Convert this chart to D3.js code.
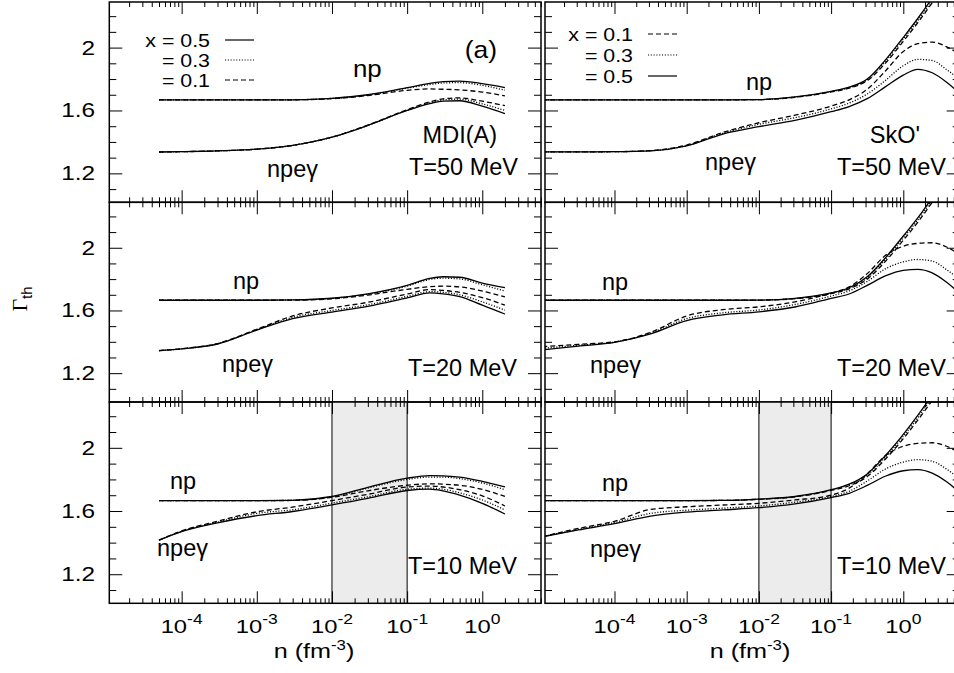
<!DOCTYPE html>
<html><head><meta charset="utf-8">
<script src="https://cdn.jsdelivr.net/npm/d3@7"></script>
<style>
body{margin:0;background:#fff}
svg{display:block}
text{font-family:"Liberation Sans",Arial,Helvetica,sans-serif;fill:#000}
</style>
</head><body>
<svg id="c" width="954" height="673"></svg>
<script>
// ---------------- data ----------------
const nLeft = [5e-5,1e-4,3e-4,1e-3,3e-3,1e-2,3e-2,0.1,0.2,0.3,0.5,1,2];
const nRight = [1e-5,3.162e-5,1e-4,3.162e-4,1e-3,3.162e-3,1e-2,3.162e-2,0.1,0.1778,0.3162,0.5623,1,1.585,2.512,3.981,6.31];

// MDI(A), T = 50 MeV
const mdi50NpX05 = [1.667,1.667,1.667,1.667,1.668,1.677,1.700,1.745,1.772,1.784,1.787,1.771,1.746];
const mdi50NpX03 = [1.667,1.667,1.667,1.667,1.668,1.677,1.698,1.742,1.765,1.775,1.777,1.760,1.729];
const mdi50NpX01 = [1.667,1.667,1.667,1.667,1.668,1.675,1.695,1.728,1.737,1.735,1.731,1.717,1.693];
const mdi50NpeX05 = [1.336,1.338,1.343,1.354,1.378,1.430,1.505,1.600,1.643,1.660,1.662,1.627,1.580];
const mdi50NpeX03 = [1.336,1.338,1.343,1.354,1.378,1.430,1.505,1.602,1.648,1.667,1.672,1.642,1.600];
const mdi50NpeX01 = [1.336,1.338,1.343,1.354,1.378,1.431,1.507,1.605,1.655,1.674,1.680,1.659,1.631];
// MDI(A), T = 20 MeV
const mdi20NpX05 = [1.665,1.665,1.665,1.665,1.667,1.678,1.706,1.760,1.805,1.815,1.812,1.775,1.745];
const mdi20NpX03 = [1.665,1.665,1.665,1.665,1.667,1.677,1.704,1.755,1.798,1.806,1.801,1.764,1.724];
const mdi20NpX01 = [1.665,1.665,1.665,1.665,1.666,1.674,1.698,1.735,1.752,1.755,1.750,1.724,1.686];
const mdi20NpeX05 = [1.344,1.355,1.386,1.475,1.548,1.590,1.626,1.680,1.712,1.706,1.688,1.634,1.577];
const mdi20NpeX03 = [1.344,1.355,1.387,1.478,1.556,1.600,1.636,1.690,1.720,1.716,1.700,1.655,1.602];
const mdi20NpeX01 = [1.344,1.356,1.389,1.480,1.565,1.616,1.652,1.705,1.733,1.728,1.715,1.682,1.634];
// MDI(A), T = 10 MeV
const mdi10NpX05 = [1.666,1.666,1.666,1.666,1.668,1.692,1.750,1.808,1.824,1.823,1.815,1.788,1.752];
const mdi10NpX03 = [1.666,1.666,1.666,1.666,1.668,1.690,1.745,1.800,1.815,1.815,1.805,1.777,1.735];
const mdi10NpX01 = [1.666,1.666,1.666,1.666,1.667,1.687,1.728,1.763,1.772,1.770,1.763,1.737,1.692];
const mdi10NpeX05 = [1.416,1.470,1.525,1.571,1.597,1.639,1.680,1.730,1.738,1.727,1.700,1.649,1.581];
const mdi10NpeX03 = [1.416,1.472,1.530,1.585,1.608,1.650,1.690,1.738,1.745,1.738,1.715,1.670,1.607];
const mdi10NpeX01 = [1.416,1.474,1.535,1.595,1.625,1.666,1.706,1.752,1.758,1.752,1.735,1.696,1.632];

// SkO', T = 50 MeV
const sko50NpX05 = [1.668,1.668,1.668,1.668,1.668,1.668,1.669,1.686,1.722,1.748,1.800,1.920,2.065,2.185,2.315,2.455,2.600];
const sko50NpX03 = [1.668,1.668,1.668,1.668,1.668,1.668,1.669,1.685,1.720,1.745,1.795,1.912,2.055,2.172,2.300,2.440,2.580];
const sko50NpX01 = [1.668,1.668,1.668,1.668,1.668,1.668,1.669,1.684,1.718,1.742,1.790,1.900,2.040,2.158,2.285,2.420,2.560];
const sko50NpeX05 = [1.337,1.337,1.338,1.343,1.375,1.450,1.497,1.537,1.592,1.625,1.675,1.750,1.825,1.862,1.840,1.780,1.700];
const sko50NpeX03 = [1.337,1.337,1.338,1.344,1.377,1.455,1.512,1.554,1.610,1.647,1.705,1.790,1.885,1.925,1.918,1.860,1.790];
const sko50NpeX01 = [1.337,1.337,1.338,1.345,1.380,1.460,1.522,1.570,1.628,1.668,1.735,1.850,1.975,2.025,2.035,2.005,1.950];
// SkO', T = 20 MeV
const sko20NpX05 = [1.665,1.665,1.665,1.665,1.665,1.665,1.666,1.677,1.712,1.745,1.815,1.935,2.075,2.190,2.320,2.460,2.600];
const sko20NpX03 = [1.665,1.665,1.665,1.665,1.665,1.665,1.666,1.676,1.710,1.742,1.808,1.925,2.063,2.178,2.305,2.445,2.580];
const sko20NpX01 = [1.665,1.665,1.665,1.665,1.665,1.665,1.666,1.675,1.707,1.738,1.800,1.912,2.048,2.162,2.290,2.425,2.560];
const sko20NpeX05 = [1.348,1.372,1.396,1.450,1.535,1.572,1.591,1.622,1.677,1.705,1.760,1.820,1.856,1.862,1.840,1.780,1.700];
const sko20NpeX03 = [1.358,1.378,1.398,1.455,1.548,1.585,1.603,1.638,1.692,1.725,1.785,1.865,1.910,1.925,1.915,1.860,1.790];
const sko20NpeX01 = [1.369,1.384,1.400,1.460,1.565,1.605,1.623,1.655,1.710,1.750,1.835,1.950,2.010,2.028,2.032,2.005,1.950];
// SkO', T = 10 MeV
const sko10NpX05 = [1.666,1.666,1.666,1.666,1.666,1.667,1.675,1.692,1.735,1.770,1.835,1.950,2.085,2.205,2.335,2.475,2.620];
const sko10NpX03 = [1.666,1.666,1.666,1.666,1.666,1.667,1.675,1.691,1.733,1.766,1.828,1.940,2.073,2.190,2.320,2.460,2.600];
const sko10NpX01 = [1.666,1.666,1.666,1.666,1.666,1.667,1.674,1.690,1.730,1.760,1.818,1.928,2.058,2.175,2.300,2.440,2.580];
const sko10NpeX05 = [1.437,1.480,1.520,1.568,1.593,1.607,1.621,1.645,1.685,1.712,1.762,1.820,1.855,1.862,1.840,1.785,1.710];
const sko10NpeX03 = [1.437,1.484,1.527,1.585,1.605,1.618,1.632,1.656,1.692,1.725,1.790,1.865,1.910,1.925,1.915,1.865,1.795];
const sko10NpeX01 = [1.437,1.490,1.535,1.610,1.627,1.638,1.649,1.670,1.700,1.745,1.835,1.950,2.010,2.028,2.032,2.010,1.960];

const xTickLabelsExp = [-4,-3,-2,-1,0];
const yTickLabels = [1.2,1.6,2.0];
const yMinorTicks = [1.1,1.3,1.4,1.5,1.7,1.8,1.9,2.1,2.2];
const legendLeft = ["x = 0.5","= 0.3","= 0.1"];
const legendLeftStyle = ["solid","dotted","dashed"];
const legendRight = ["x = 0.1","= 0.3","= 0.5"];
const legendRightStyle = ["dashed","dotted","solid"];
const shadeRange = [1e-2,1e-1];

// ---------------- layout ----------------
const svg = d3.select("#c");
const cols = [{x0:109.3,x1:541},{x0:545,x1:959.7}];
const rows = [{y0:2,y1:202.3},{y0:202.3,y1:402},{y0:402,y1:603.3}];
const xDomain = [1.09e-5,6.04];
const yDomain = [1.016,2.29];
const dash = {solid:null, dotted:"1.1,1.7", dashed:"5,3"};

const xMinor = [];
for (let d=-5; d<=0; d++) for (let k=2;k<=9;k++){ const v=k*Math.pow(10,d); if(v>xDomain[0]&&v<xDomain[1]) xMinor.push(v); }
const xMajor = xTickLabelsExp.map(e=>Math.pow(10,e));

const panels = [
  {col:0,row:0,n:nLeft,np:[mdi50NpX05,mdi50NpX03,mdi50NpX01],npe:[mdi50NpeX05,mdi50NpeX03,mdi50NpeX01]},
  {col:0,row:1,n:nLeft,np:[mdi20NpX05,mdi20NpX03,mdi20NpX01],npe:[mdi20NpeX05,mdi20NpeX03,mdi20NpeX01]},
  {col:0,row:2,n:nLeft,np:[mdi10NpX05,mdi10NpX03,mdi10NpX01],npe:[mdi10NpeX05,mdi10NpeX03,mdi10NpeX01]},
  {col:1,row:0,n:nRight,np:[sko50NpX05,sko50NpX03,sko50NpX01],npe:[sko50NpeX05,sko50NpeX03,sko50NpeX01]},
  {col:1,row:1,n:nRight,np:[sko20NpX05,sko20NpX03,sko20NpX01],npe:[sko20NpeX05,sko20NpeX03,sko20NpeX01]},
  {col:1,row:2,n:nRight,np:[sko10NpX05,sko10NpX03,sko10NpX01],npe:[sko10NpeX05,sko10NpeX03,sko10NpeX01]}
];
const seriesStyle = ["solid","dotted","dashed"]; // x = 0.5, 0.3, 0.1

function addText(g, x, y, str, size, anchor, sx){
  return g.append("text").attr("font-size",size).attr("text-anchor",anchor||"start")
    .attr("transform",`translate(${x},${y}) scale(${sx||1},1)`).text(str);
}

panels.forEach((p,pi)=>{
  const c = cols[p.col], r = rows[p.row];
  const x = d3.scaleLog().domain(xDomain).range([c.x0,c.x1]);
  const y = d3.scaleLinear().domain(yDomain).range([r.y1,r.y0]);
  const g = svg.append("g");
  const cid = "clip"+pi;
  g.append("clipPath").attr("id",cid).append("rect")
    .attr("x",c.x0).attr("y",r.y0).attr("width",c.x1-c.x0).attr("height",r.y1-r.y0);

  if (p.row===2){
    g.append("rect").attr("x",x(shadeRange[0])).attr("y",r.y0)
      .attr("width",x(shadeRange[1])-x(shadeRange[0])).attr("height",r.y1-r.y0)
      .attr("fill","#ececec");
    shadeRange.forEach(v=>g.append("line").attr("x1",x(v)).attr("x2",x(v))
      .attr("y1",r.y0).attr("y2",r.y1).attr("stroke","#000").attr("stroke-width",1));
  }

  const line = d3.line().x((d,i)=>x(p.n[i])).y(d=>y(d)).curve(d3.curveMonotoneX);
  const cg = g.append("g").attr("clip-path",`url(#${cid})`);
  [p.np,p.npe].forEach(set=>set.forEach((arr,si)=>{
    cg.append("path").attr("d",line(arr)).attr("fill","none").attr("stroke","#000")
      .attr("stroke-width",1.3).attr("stroke-dasharray",dash[seriesStyle[si]]);
  }));

  function tk(axisFn, scale, vals, size, tr){
    const a = axisFn(scale).tickValues(vals).tickSize(size).tickFormat(()=>"");
    const ag = g.append("g").attr("transform",tr).call(a);
    ag.select(".domain").remove();
    ag.selectAll("text").remove();
    ag.selectAll("line").attr("stroke","#000").attr("stroke-width",1);
  }
  tk(d3.axisBottom,x,xMajor,-12,`translate(0,${r.y1})`);
  tk(d3.axisBottom,x,xMinor,-5,`translate(0,${r.y1})`);
  tk(d3.axisTop,x,xMajor,-12,`translate(0,${r.y0})`);
  tk(d3.axisTop,x,xMinor,-5,`translate(0,${r.y0})`);
  tk(d3.axisLeft,y,yTickLabels,-13,`translate(${c.x0},0)`);
  tk(d3.axisLeft,y,yMinorTicks,-7,`translate(${c.x0},0)`);
  tk(d3.axisRight,y,yTickLabels,-13,`translate(${c.x1},0)`);
  tk(d3.axisRight,y,yMinorTicks,-7,`translate(${c.x1},0)`);

  g.append("rect").attr("x",c.x0).attr("y",r.y0).attr("width",c.x1-c.x0).attr("height",r.y1-r.y0)
    .attr("fill","none").attr("stroke","#000").attr("stroke-width",1.5);

  if (p.col===0){
    yTickLabels.forEach(v=>addText(svg,95,y(v)+7,d3.format("~g")(v),19.5,"end",1.25));
  }
  if (p.row===2){
    xTickLabelsExp.forEach(e=>{
      const t = svg.append("text").attr("text-anchor","middle").attr("font-size",19)
        .attr("transform",`translate(${x(Math.pow(10,e))},632.5) scale(1.25,1)`);
      t.append("tspan").text("10");
      t.append("tspan").attr("font-size",14).attr("dy",-9).text(e===0?"0":"-"+(-e));
    });
  }
});

// panel labels
const T = svg.append("g");
function legend(names, styles, tx, lx0, lx1, ly){
  names.forEach((s,i)=>{
    addText(T,tx,ly[i]+7,s,17.8,"end",1.2);
    T.append("line").attr("x1",lx0).attr("x2",lx1).attr("y1",ly[i]).attr("y2",ly[i])
      .attr("stroke","#000").attr("stroke-width",1.2).attr("stroke-dasharray",dash[styles[i]]);
  });
}
legend(legendLeft,legendLeftStyle,210,225,254,[40,60,80]);
legend(legendRight,legendRightStyle,633,648,677,[34,55,76]);

const LS = 23.5;
addText(T,497,58,"(a)",24,"end",1.1);
addText(T,353,77,"np",LS,"start",1.1);
addText(T,497,143,"MDI(A)",LS,"end");
addText(T,518,175,"T=50 MeV",LS,"end");
addText(T,267,177,"npeγ",LS);

addText(T,746,90,"np",LS);
addText(T,920,143,"SkO'",LS,"end");
addText(T,946,175,"T=50 MeV",LS,"end");
addText(T,705,170,"npeγ",LS);

addText(T,233,289,"np",LS);
addText(T,222,372,"npeγ",LS);
addText(T,517,376,"T=20 MeV",LS,"end");

addText(T,602,290,"np",LS);
addText(T,590,373,"npeγ",LS);
addText(T,946,376,"T=20 MeV",LS,"end");

addText(T,170,489,"np",LS);
addText(T,157,556,"npeγ",LS);
addText(T,517,574,"T=10 MeV",LS,"end");

addText(T,602,491,"np",LS);
addText(T,590,557,"npeγ",LS);
addText(T,946,574,"T=10 MeV",LS,"end");

// axis titles
[314,750].forEach(cx=>{
  const t = svg.append("text").attr("text-anchor","middle").attr("font-size",21)
    .attr("transform",`translate(${cx},658) scale(1.2,1)`);
  t.append("tspan").text("n (fm");
  t.append("tspan").attr("font-size",14).attr("dy",-8).text("-3");
  t.append("tspan").attr("dy",8).text(")");
});
const yt = svg.append("text").attr("transform","translate(27,299) rotate(-90)").attr("text-anchor","middle");
yt.append("tspan").attr("font-size",22).attr("style","font-family:'Liberation Serif',serif").text("Γ");
yt.append("tspan").attr("font-size",15).attr("dy",5).text("th");
</script>
</body></html>
